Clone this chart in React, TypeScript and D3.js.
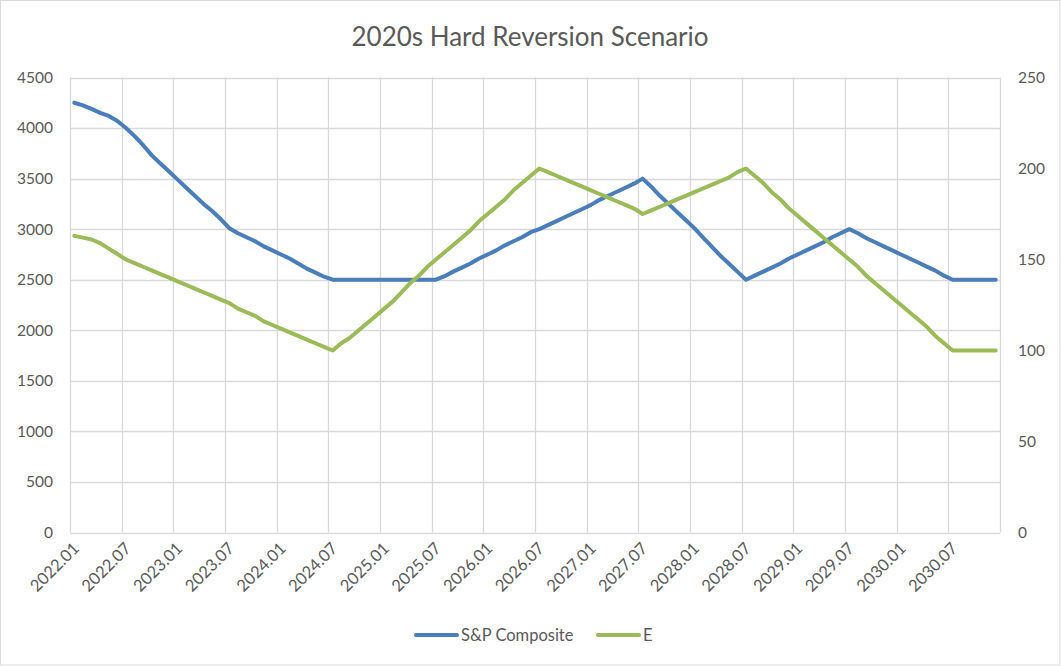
import React from "react";
import * as d3 from "d3";

const months: string[] = [];
for (let y = 2022; y <= 2030; y++) for (let m = 1; m <= 12; m++) months.push(`${y}.${String(m).padStart(2, "0")}`);

const spComposite = [
  4250, 4225, 4190, 4150, 4120, 4070, 4000, 3920, 3830, 3730, 3650, 3570,
  3490, 3410, 3330, 3250, 3180, 3100, 3010, 2960, 2920, 2880, 2830, 2790,
  2750, 2710, 2660, 2610, 2570, 2530, 2500, 2500, 2500, 2500, 2500, 2500,
  2500, 2500, 2500, 2500, 2500, 2500, 2500, 2535, 2580, 2620, 2660, 2710,
  2750, 2790, 2840, 2880, 2920, 2970, 3000, 3040, 3080, 3120, 3160, 3200,
  3240, 3290, 3330, 3370, 3410, 3450, 3500, 3420, 3330, 3250, 3170, 3090,
  3010, 2920, 2830, 2740, 2660, 2580, 2500, 2540, 2580, 2620, 2660, 2710,
  2750, 2790, 2830, 2870, 2920, 2960, 3000, 2960, 2910, 2870, 2830, 2790,
  2750, 2710, 2670, 2630, 2590, 2540, 2500, 2500, 2500, 2500, 2500, 2500,
];

const earnings = [
  163, 162, 161, 159, 156, 153, 150, 148, 146, 144, 142, 140,
  138, 136, 134, 132, 130, 128, 126, 123, 121, 119, 116, 114,
  112, 110, 108, 106, 104, 102, 100, 104, 107, 111, 115, 119,
  123, 127, 132, 137, 141, 146, 150, 154, 158, 162, 166, 171,
  175, 179, 183, 188, 192, 196, 200, 198, 196, 194, 192, 190,
  188, 186, 184, 182, 180, 178, 175, 177, 179, 181, 183, 185,
  187, 189, 191, 193, 195, 198, 200, 196, 192, 187, 183, 178,
  174, 170, 166, 162, 158, 154, 150, 146, 141, 137, 133, 129,
  125, 121, 117, 113, 108, 104, 100, 100, 100, 100, 100, 100,
];

const leftTicks = [0, 500, 1000, 1500, 2000, 2500, 3000, 3500, 4000, 4500];
const rightTicks = [0, 50, 100, 150, 200, 250];
const title = "2020s Hard Reversion Scenario";
const seriesNames = ["S&P Composite", "E"];
const colors = ["#4a7ebb", "#9bbb59"];

const W = 1061, H = 666;
const plot = { left: 70, right: 1000, top: 77.5, bottom: 532.5 };
const FONT = "Lato, 'Open Sans', sans-serif";
const TEXT = "#595959";
const GRID = "#d9d9d9";

export default function App() {
  const x = d3.scaleBand<string>().domain(months).range([plot.left, plot.right]).padding(0);
  const yL = d3.scaleLinear().domain([0, 4500]).range([plot.bottom, plot.top]);
  const yR = d3.scaleLinear().domain([0, 250]).range([plot.bottom, plot.top]);
  const cx = (m: string) => (x(m) as number) + x.bandwidth() / 2;

  const lineL = d3.line<number>().x((_, i) => cx(months[i])).y((d) => yL(d));
  const lineR = d3.line<number>().x((_, i) => cx(months[i])).y((d) => yR(d));

  const labelMonths = months.filter((_, i) => i % 6 === 0);
  const gridX = labelMonths.map((m) => x(m) as number).concat([plot.right]);

  return (
    <svg width={W} height={H} style={{ position: "absolute", left: 0, top: 0, background: "#fff" }} fontFamily={FONT}>
      <rect x={0.5} y={0.5} width={W - 1.5} height={H - 1.5} fill="#fff" stroke={GRID} />
      <text x={530} y={46} textAnchor="middle" fontSize={26} fill={TEXT}>{title}</text>
      {leftTicks.map((t) => (
        <line key={"h" + t} x1={plot.left} x2={plot.right} y1={Math.round(yL(t)) + 0.5} y2={Math.round(yL(t)) + 0.5} stroke={GRID} strokeWidth={1.3} />
      ))}
      {gridX.map((g, i) => (
        <line key={"v" + i} x1={Math.round(g) + 0.5} x2={Math.round(g) + 0.5} y1={plot.top} y2={plot.bottom} stroke={GRID} strokeWidth={1.3} />
      ))}
      {leftTicks.map((t) => (
        <text key={"l" + t} x={53} y={yL(t)} dy="0.35em" textAnchor="end" fontSize={15.5} fill={TEXT}>{t}</text>
      ))}
      {rightTicks.map((t) => (
        <text key={"r" + t} x={1018} y={yR(t)} dy="0.35em" textAnchor="start" fontSize={15.5} fill={TEXT}>{t}</text>
      ))}
      {labelMonths.map((m) => (
        <text key={"x" + m} transform={`translate(${cx(m) + 6},${plot.bottom + 17}) rotate(-45)`} textAnchor="end" fontSize={16.5} fill={TEXT}>{m}</text>
      ))}
      <path d={lineL(spComposite) as string} fill="none" stroke={colors[0]} strokeWidth={4} strokeLinejoin="round" strokeLinecap="round" />
      <path d={lineR(earnings) as string} fill="none" stroke={colors[1]} strokeWidth={4} strokeLinejoin="round" strokeLinecap="round" />
      <g>
        <line x1={416} x2={457} y1={635} y2={635} stroke={colors[0]} strokeWidth={4} strokeLinecap="round" />
        <text x={461} y={635} dy="0.35em" fontSize={16.5} fill={TEXT}>{seriesNames[0]}</text>
        <line x1={598} x2={639} y1={635} y2={635} stroke={colors[1]} strokeWidth={4} strokeLinecap="round" />
        <text x={643} y={635} dy="0.35em" fontSize={16.5} fill={TEXT}>{seriesNames[1]}</text>
      </g>
    </svg>
  );
}
